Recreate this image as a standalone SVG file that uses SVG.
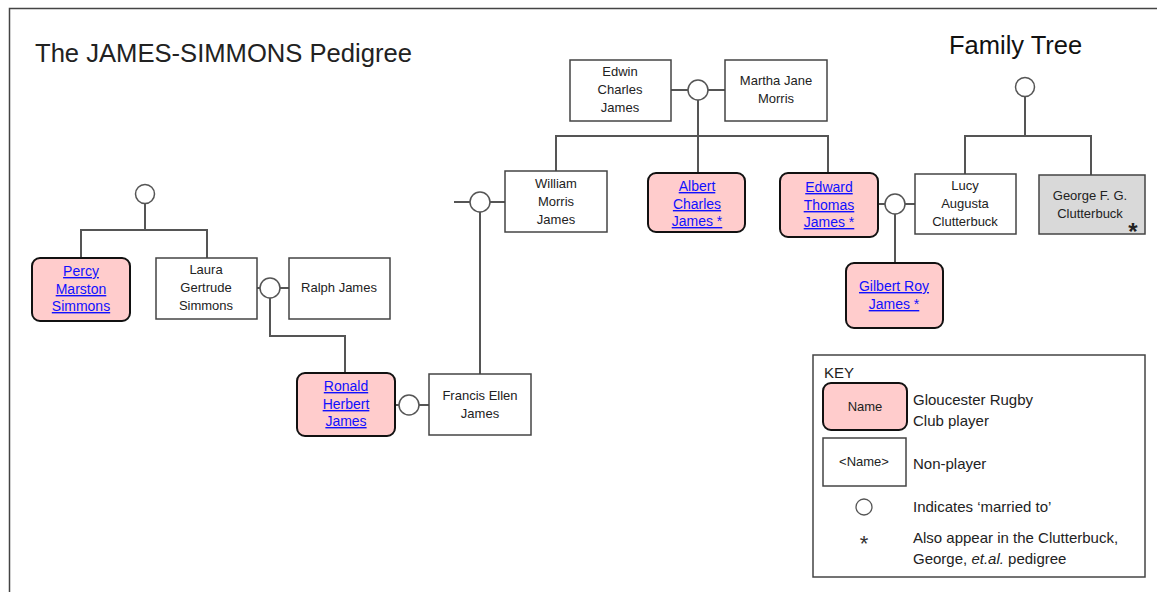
<svg xmlns="http://www.w3.org/2000/svg" width="1157" height="592" viewBox="0 0 1157 592">
<style>
.ln{stroke:#555;stroke-width:2;fill:none}
.ring{fill:#fff;stroke:#555;stroke-width:1.5}
.box{fill:#fff;stroke:#444;stroke-width:1.5}
.gray{fill:#d9d9d9;stroke:#444;stroke-width:1.5}
.pl{fill:#ffcccc;stroke:#111;stroke-width:2}
.t{font-family:"Liberation Sans",Arial,sans-serif;font-size:13px;fill:#222;text-anchor:middle}
.lk{font-family:"Liberation Sans",Arial,sans-serif;font-size:14px;fill:#1010ff;text-anchor:middle;text-decoration:underline}
.k{font-family:"Liberation Sans",Arial,sans-serif;font-size:15px;fill:#222}
</style>
<rect x="0" y="0" width="1157" height="592" fill="#fff"/>
<path d="M9.5 592 V8.5 H1157" stroke="#444" stroke-width="1.5" fill="none"/>
<text x="35" y="62" font-family="'Liberation Sans',Arial,sans-serif" font-size="25.5" fill="#222" textLength="377" lengthAdjust="spacingAndGlyphs">The JAMES-SIMMONS Pedigree</text>
<text x="949" y="54" font-family="'Liberation Sans',Arial,sans-serif" font-size="25.5" fill="#111">Family Tree</text>

<g id="connectors">
<path class="ln" d="M671 90 H725"/>
<path class="ln" d="M698 100 V136 M556 171 V136 H828 V173 M698 136 V173"/>
<path class="ln" d="M454 202 H505"/>
<path class="ln" d="M480 212 V374"/>
<path class="ln" d="M878 204 H915"/>
<path class="ln" d="M895 214 V263"/>
<path class="ln" d="M1025 97 V136 M965 174 V136 H1091 V175"/>
<path class="ln" d="M145 204 V230 M81 258 V230 H207 V258"/>
<path class="ln" d="M257 288 H289"/>
<path class="ln" d="M270 298 V336 H345 V373"/>
<path class="ln" d="M395 405 H429"/>
<circle class="ring" cx="698" cy="90" r="10"/>
<circle class="ring" cx="480" cy="202" r="10"/>
<circle class="ring" cx="895" cy="204" r="10"/>
<circle class="ring" cx="1025" cy="87" r="9.5"/>
<circle class="ring" cx="145" cy="194" r="9.5"/>
<circle class="ring" cx="270" cy="288" r="10"/>
<circle class="ring" cx="409" cy="405" r="10"/>
</g>

<g id="edwin">
<rect class="box" x="570" y="60" width="101" height="61"/>
<text class="t" x="620" y="76">Edwin</text>
<text class="t" x="620" y="94">Charles</text>
<text class="t" x="620" y="112">James</text>
</g>
<g id="martha">
<rect class="box" x="725" y="60" width="102" height="61"/>
<text class="t" x="776" y="85">Martha Jane</text>
<text class="t" x="776" y="103">Morris</text>
</g>
<g id="william">
<rect class="box" x="505" y="171" width="102" height="61"/>
<text class="t" x="556" y="188">William</text>
<text class="t" x="556" y="206">Morris</text>
<text class="t" x="556" y="224">James</text>
</g>
<g id="albert">
<rect class="pl" x="648" y="173" width="97" height="59" rx="8"/>
<text class="lk" x="697" y="191">Albert</text>
<text class="lk" x="697" y="209">Charles</text>
<text class="lk" x="697" y="226">James *</text>
</g>
<g id="edward">
<rect class="pl" x="780" y="173" width="98" height="64" rx="8"/>
<text class="lk" x="829" y="192">Edward</text>
<text class="lk" x="829" y="210">Thomas</text>
<text class="lk" x="829" y="227">James *</text>
</g>
<g id="lucy">
<rect class="box" x="915" y="174" width="101" height="60"/>
<text class="t" x="965" y="190">Lucy</text>
<text class="t" x="965" y="208">Augusta</text>
<text class="t" x="965" y="226">Clutterbuck</text>
</g>
<g id="george">
<rect class="gray" x="1039" y="175" width="106" height="59"/>
<text class="t" x="1090" y="200">George F. G.</text>
<text class="t" x="1090" y="218">Clutterbuck</text>
<text x="1133" y="240" font-family="'Liberation Sans',Arial,sans-serif" font-size="24" font-weight="bold" fill="#222" text-anchor="middle">*</text>
</g>
<g id="gilbert">
<rect class="pl" x="846" y="263" width="97" height="65" rx="8"/>
<text class="lk" x="894" y="291">Gilbert Roy</text>
<text class="lk" x="894" y="309">James *</text>
</g>
<g id="percy">
<rect class="pl" x="32" y="258" width="98" height="63" rx="8"/>
<text class="lk" x="81" y="276">Percy</text>
<text class="lk" x="81" y="294">Marston</text>
<text class="lk" x="81" y="311">Simmons</text>
</g>
<g id="laura">
<rect class="box" x="156" y="258" width="101" height="61"/>
<text class="t" x="206" y="274">Laura</text>
<text class="t" x="206" y="292">Gertrude</text>
<text class="t" x="206" y="310">Simmons</text>
</g>
<g id="ralph">
<rect class="box" x="289" y="258" width="101" height="61"/>
<text class="t" x="339" y="292">Ralph James</text>
</g>
<g id="ronald">
<rect class="pl" x="297" y="373" width="98" height="63" rx="8"/>
<text class="lk" x="346" y="391">Ronald</text>
<text class="lk" x="346" y="409">Herbert</text>
<text class="lk" x="346" y="426">James</text>
</g>
<g id="francis">
<rect class="box" x="429" y="374" width="102" height="61"/>
<text class="t" x="480" y="400">Francis Ellen</text>
<text class="t" x="480" y="418">James</text>
</g>

<g id="key">
<rect x="813" y="355" width="332" height="222" fill="#fff" stroke="#444" stroke-width="1.5"/>
<text class="k" x="824" y="378" font-size="13">KEY</text>
<rect class="pl" x="823" y="383" width="84" height="47" rx="8"/>
<text class="t" x="865" y="411">Name</text>
<text class="k" x="913" y="405">Gloucester Rugby</text>
<text class="k" x="913" y="426">Club player</text>
<rect class="box" x="823" y="438" width="83" height="48"/>
<text class="t" x="864" y="466" font-size="11">&lt;Name&gt;</text>
<text class="k" x="913" y="469">Non-player</text>
<circle cx="864" cy="507" r="8" fill="#fff" stroke="#555" stroke-width="1.3"/>
<text class="k" x="913" y="512">Indicates ‘married to’</text>
<text x="864" y="551" font-family="'Liberation Sans',Arial,sans-serif" font-size="22" fill="#333" text-anchor="middle">*</text>
<text class="k" x="913" y="543">Also appear in the Clutterbuck,</text>
<text class="k" x="913" y="564">George, <tspan font-style="italic">et.al.</tspan> pedigree</text>
</g>
</svg>
